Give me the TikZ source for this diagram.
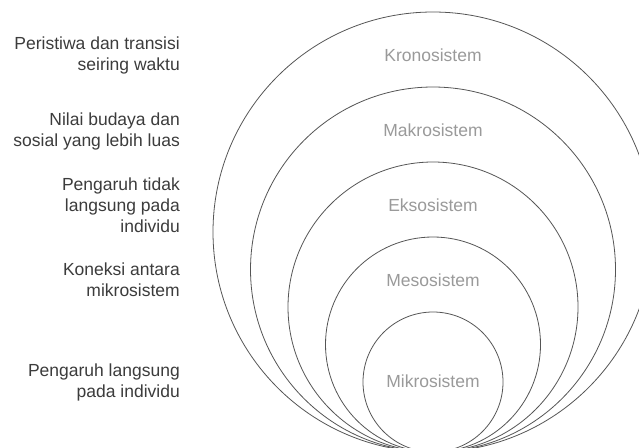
\documentclass[tikz,border=0pt]{standalone}
\usepackage{fontspec}
\setmainfont{Liberation Sans}
\definecolor{ringc}{HTML}{555555}
\definecolor{lblc}{HTML}{9A9A9A}
\definecolor{sidec}{HTML}{3C3C3C}
\begin{document}
\begin{tikzpicture}[x=1pt,y=-1pt,
  ring/.style={circle, draw=ringc, line width=0.8pt, inner sep=0pt, outer sep=0pt, minimum size=#1},
  syslabel/.style={text=lblc, inner sep=0pt, font=\fontsize{17.5}{21}\selectfont},
  sidelabel/.style={text=sidec, align=right, anchor=east, inner sep=0pt, font=\fontsize{17.5}{21}\selectfont}]
\path[use as bounding box, clip] (0,0) rectangle (639,447);
\fill[white] (0,0) rectangle (639,447);
\node[ring=440pt] (krono) at (433,232) {};
\node[ring=365pt] (makro) at (433,269.5) {};
\node[ring=290pt] (ekso) at (433,307) {};
\node[ring=215pt] (meso) at (433,344.5) {};
\node[ring=140pt] (mikro) at (433,382) {};
\node[syslabel] (lkrono) at (433,55) {Kronosistem};
\node[syslabel] (lmakro) at (433,130) {Makrosistem};
\node[syslabel] (lekso) at (433,205) {Eksosistem};
\node[syslabel] (lmeso) at (433,280) {Mesosistem};
\node[syslabel] (lmikro) at (433,381) {Mikrosistem};
\node[sidelabel] (dkrono) at (180,55.5) {Peristiwa dan transisi\\seiring waktu};
\node[sidelabel] (dmakro) at (180,131) {Nilai budaya dan\\sosial yang lebih luas};
\node[sidelabel] (dekso) at (180,205) {Pengaruh tidak\\langsung pada\\individu};
\node[sidelabel] (dmeso) at (180,280) {Koneksi antara\\mikrosistem};
\node[sidelabel] (dmikro) at (180,382) {Pengaruh langsung\\pada individu};
\end{tikzpicture}
\end{document}
